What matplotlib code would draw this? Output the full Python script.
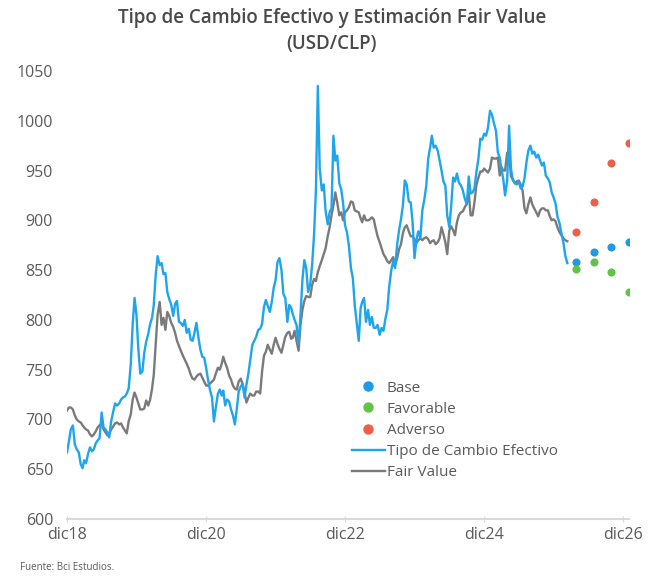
import pandas as pd
import matplotlib
matplotlib.use("Agg")
import matplotlib.pyplot as plt
from matplotlib.lines import Line2D

plt.rcParams['font.family'] = ['Open Sans', 'DejaVu Sans']

# Tipo de cambio efectivo (USD/CLP), three readings per month (days 1, 11, 21)
tce = [
    667, 678, 690,  694, 675, 670,  667, 655, 651,  659, 656, 665,   # dic18 - mar19
    672, 668, 670,  676, 679, 681,  707, 692, 690,  687, 682, 698,   # abr19 - jul19
    708, 716, 714,  716, 720, 722,  723, 726, 731,  755, 795, 822,   # ago19 - nov19
    805, 770, 746,  748, 767, 778,  786, 796, 802,  815, 845, 864,   # dic19 - mar20
    855, 857, 846,  847, 828, 821,  815, 804, 816,  819, 798, 797,   # abr20 - jul20
    794, 800, 787,  791, 780, 779,  787, 797, 783,  770, 763, 762,   # ago20 - nov20
    752, 740, 730,  722, 698, 712,  726, 730, 724,  729, 714, 720,   # dic20 - mar21
    718, 710, 704,  695, 710, 728,  733, 736, 722,  735, 746, 760,   # abr21 - jul21
    775, 779, 783,  790, 791, 796,  813, 820, 814,  808, 818, 832,   # ago21 - nov21
    840, 858, 862,  850, 826, 822,  798, 815, 812,  806, 800, 795,   # dic21 - mar22
    775, 805, 840,  860, 852, 828,  836, 855, 885,  930, 1035, 952,  # abr22 - jul22
    930, 936, 909,  896, 908, 912,  985, 960, 965,  937, 931, 917,   # ago22 - nov22
    895, 888, 875,  852, 842, 815,  796, 779, 812,  818, 822, 798,   # dic22 - mar23
    810, 795, 803,  792, 792, 795,  785, 792, 789,  801, 810, 833,   # abr23 - jul23
    850, 859, 852,  876, 890, 901,  915, 940, 936,  919, 918, 898,   # ago23 - nov23
    862, 880, 889,  882, 910, 920,  935, 962, 973,  985, 973, 975,   # dic23 - mar24
    970, 960, 950,  939, 935, 905,  893, 915, 943,  939, 947, 938,   # abr24 - jul24
    935, 930, 922,  916, 944, 927,  928, 932, 948,  962, 982, 981,   # ago24 - nov24
    987, 985, 993,  1010, 1006, 998,  990, 968, 963,  952, 942, 925,  # dic24 - mar25
    940, 995, 952,  940, 938, 936,  939, 932, 934,  942, 958, 970,   # abr25 - jul25
    975, 967, 969,  963, 966, 960,  955, 958, 945,  942, 938, 928,   # ago25 - nov25
    923, 917, 904,  897, 887, 878,  864, 857,                        # dic25 - feb26
]

# Fair value estimate, same dates
fair_value = [
    709, 712, 712,  710, 704, 700,  698, 697, 694,  692, 690, 689,
    685, 683, 685,  688, 692, 694,  696, 690, 687,  684, 686, 690,
    693, 696, 697,  695, 696, 692,  689, 686, 698,  705, 720, 727,
    722, 716, 710,  710, 711, 719,  714, 720, 731,  745, 775, 805,
    818, 795, 802,  790, 808, 804,  797, 793, 787,  779, 774, 769,
    764, 760, 756,  751, 745, 741,  740, 743, 745,  746, 742, 738,
    734, 734, 736,  738, 740, 746,  752, 750, 756,  763, 757, 752,
    744, 740, 734,  731, 730, 738,  741, 735, 727,  717, 722, 726,
    724, 724, 728,  728, 726, 748,  764, 768, 775,  770, 766, 775,
    782, 776, 771,  767, 775, 783,  787, 788, 781,  782, 789, 779,
    769, 795, 810,  819, 824, 823,  823, 835, 841,  839, 848, 854,
    860, 866, 872,  884, 893, 905,  915, 928, 918,  905, 908, 900,
    908, 910, 913,  919, 918, 910,  909, 908, 902,  898, 905, 900,
    900, 901, 903,  901, 892, 884,  878, 872, 866,  863, 859, 857,
    860, 863, 855,  862, 871, 876,  887, 893, 895,  889, 884, 884,
    881, 877, 880,  882, 880, 882,  883, 881, 877,  879, 880, 876,
    878, 882, 893,  886, 878, 866,  890, 894, 890,  885, 898, 905,
    908, 909, 913,  917, 928, 905,  905, 918, 935,  943, 949, 949,
    952, 950, 948,  952, 963, 962,  962, 963, 945,  954, 950, 950,
    968, 966, 944,  941, 937, 939,  940, 936, 930,  912, 907, 916,
    923, 916, 912,  908, 904, 910,  912, 912, 910,  910, 904, 900,
    901, 899, 893,  888, 885, 882,  880, 879,
]

# Scenario projections 2026
scenario_dates = ["2026-03-31", "2026-06-30", "2026-09-30", "2026-12-31"]
base = [858, 868, 873, 878]
favorable = [851, 858, 848, 828]
adverso = [888, 918, 958, 978]

tick_dates = ["2018-12-01", "2020-12-01", "2022-12-01", "2024-12-01", "2026-12-01"]
tick_labels = ["dic18", "dic20", "dic22", "dic24", "dic26"]

# Colors
cBlue = "#1ea5ec"
cGray = "#7a7a7a"
cBase = "#1f9be3"
cFav = "#62c446"
cAdv = "#ef5f48"
cText = "#5a5a5a"

# Build dates
months = pd.date_range("2018-12-01", "2026-02-01", freq="MS")
dates = [m + pd.Timedelta(days=d) for m in months for d in (0, 10, 20)][:len(tce)]
scenDates = pd.to_datetime(scenario_dates)

fig = plt.figure(figsize=(6.53, 5.77), dpi=100)
ax = fig.add_axes([0.1026, 0.1005, 0.8606, 0.7765])

ax.plot(dates, tce, color=cBlue, linewidth=1.7, zorder=3)
ax.plot(dates, fair_value, color=cGray, linewidth=1.7, zorder=2)
ax.scatter(scenDates, base, s=34, color=cBase, zorder=4, linewidths=0)
ax.scatter(scenDates, favorable, s=34, color=cFav, zorder=4, linewidths=0)
ax.scatter(scenDates, adverso, s=34, color=cAdv, zorder=4, linewidths=0)

ax.set_ylim(600, 1050)
ax.set_yticks(range(600, 1051, 50))
ax.set_xlim(pd.Timestamp("2018-12-01"), pd.Timestamp("2027-01-01"))
ax.set_xticks(pd.to_datetime(tick_dates))
ax.set_xticklabels(tick_labels)

for side in ["top", "right", "left"]:
    ax.spines[side].set_visible(False)
ax.spines["bottom"].set_color("#d9d9d9")
ax.spines["bottom"].set_linewidth(1.5)
ax.tick_params(axis="y", length=0, labelsize=11.5, labelcolor=cText, pad=10)
ax.tick_params(axis="x", length=4, direction="inout", color="#d9d9d9", labelsize=11.5, labelcolor=cText, pad=4)

# Legend: scenarios first, then lines
handles = [
    Line2D([], [], marker="o", linestyle="none", markersize=6.5, color=cBase),
    Line2D([], [], marker="o", linestyle="none", markersize=6.5, color=cFav),
    Line2D([], [], marker="o", linestyle="none", markersize=6.5, color=cAdv),
    Line2D([], [], color=cBlue, linewidth=1.7),
    Line2D([], [], color=cGray, linewidth=1.7),
]
labels = ["Base", "Favorable", "Adverso", "Tipo de Cambio Efectivo", "Fair Value"]
fig.legend(handles, labels, loc="upper left", bbox_to_anchor=(344 / 653, 1 - 373 / 577),
           frameon=False, fontsize=11, handlelength=2.2, handletextpad=0.1,
           labelspacing=0.4, borderpad=0, labelcolor=cText)

fig.text(0.508, 1 - 18 / 577, "Tipo de Cambio Efectivo y Estimación Fair Value",
         ha="center", va="center", fontsize=13.5, fontweight="semibold", color="#4a4a4a")
fig.text(0.508, 1 - 44 / 577, "(USD/CLP)",
         ha="center", va="center", fontsize=13.5, fontweight="semibold", color="#4a4a4a")
fig.text(20 / 653, 1 - 568 / 577, "Fuente: Bci Estudios.", ha="left", va="center",
         fontsize=7, color=cText)

plt.savefig("out.png", dpi=100)
